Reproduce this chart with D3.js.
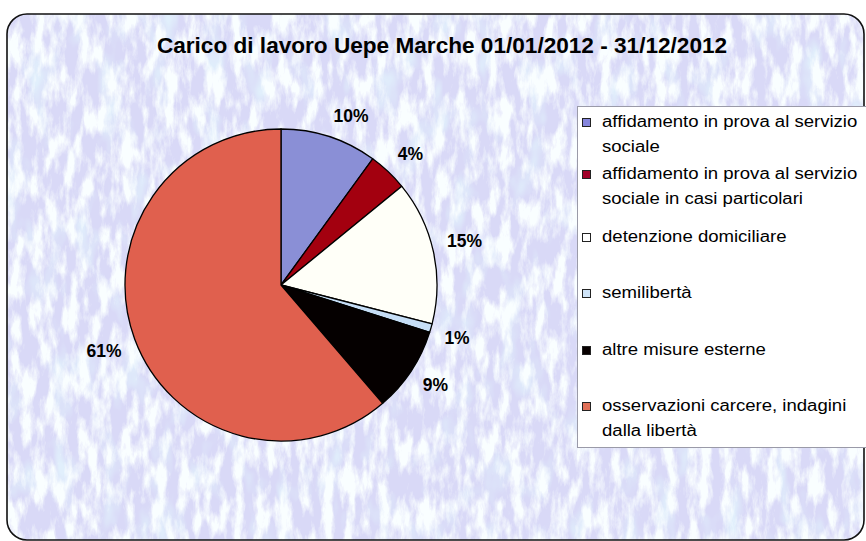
<!DOCTYPE html>
<html>
<head>
<meta charset="utf-8">
<script src="https://cdn.jsdelivr.net/npm/d3@7"></script>
<style>
  html, body { margin: 0; padding: 0; background: #ffffff; }
  svg { display: block; }
</style>
</head>
<body>
<svg id="chart" width="866" height="541"></svg>
<script>
// ---- data ----
const titleText = "Carico di lavoro Uepe Marche 01/01/2012 - 31/12/2012";
const categories = [
  "affidamento in prova al servizio sociale",
  "affidamento in prova al servizio sociale in casi particolari",
  "detenzione domiciliare",
  "semilibertà",
  "altre misure esterne",
  "osservazioni carcere, indagini dalla libertà"
];
const legendLines = [
  ["affidamento in prova al servizio", "sociale"],
  ["affidamento in prova al servizio", "sociale in casi particolari"],
  ["detenzione domiciliare"],
  ["semilibertà"],
  ["altre misure esterne"],
  ["osservazioni carcere, indagini", "dalla libertà"]
];
const values = [10.0, 4.1, 14.9, 0.9, 8.8, 61.3];
const sliceColors = ["#8a8fd6", "#a3000f", "#fffff8", "#c6def6", "#050000", "#e0604e"];
const legendColors = ["#8585dc", "#a00028", "#ffffff", "#cfe4f8", "#080000", "#e07058"];

// ---- layout ----
const W = 866, H = 541;
const svg = d3.select("#chart");
const defs = svg.append("defs");

const frame = {x: 7, y: 14, w: 857, h: 526, r: 20};

const clip = defs.append("clipPath").attr("id", "frameClip");
clip.append("rect").attr("x", frame.x).attr("y", frame.y).attr("width", frame.w).attr("height", frame.h)
  .attr("rx", frame.r).attr("ry", frame.r);

const filt = defs.append("filter").attr("id", "tex")
  .attr("filterUnits", "userSpaceOnUse")
  .attr("x", 0).attr("y", 0).attr("width", W).attr("height", H);
filt.append("feTurbulence").attr("type", "fractalNoise")
  .attr("baseFrequency", "0.09 0.03").attr("numOctaves", 5).attr("seed", 11).attr("result", "n");
filt.append("feColorMatrix").attr("in", "n").attr("type", "matrix")
  .attr("values", "0 0 0 0 0.95  0 0 0 0 0.99  0 0 0 0 1  3.6 0 0 0 -1.45");

const filt2 = defs.append("filter").attr("id", "tex2")
  .attr("filterUnits", "userSpaceOnUse")
  .attr("x", 0).attr("y", 0).attr("width", W).attr("height", H);
filt2.append("feTurbulence").attr("type", "fractalNoise")
  .attr("baseFrequency", "0.04 0.02").attr("numOctaves", 3).attr("seed", 3).attr("result", "n");
filt2.append("feColorMatrix").attr("in", "n").attr("type", "matrix")
  .attr("values", "0 0 0 0 0.75  0 0 0 0 0.86  0 0 0 0 0.97  0 0 3 0 -1.55");

const bgG = svg.append("g").attr("clip-path", "url(#frameClip)");
bgG.append("rect").attr("x", 0).attr("y", 0).attr("width", W).attr("height", H).attr("fill", "#d9d9f7");
bgG.append("rect").attr("x", 0).attr("y", 0).attr("width", W).attr("height", H).attr("filter", "url(#tex2)");
bgG.append("rect").attr("x", 0).attr("y", 0).attr("width", W).attr("height", H).attr("filter", "url(#tex)");

svg.append("rect").attr("x", frame.x).attr("y", frame.y).attr("width", frame.w).attr("height", frame.h)
  .attr("rx", frame.r).attr("ry", frame.r)
  .attr("fill", "none").attr("stroke", "#111").attr("stroke-width", 1.6);

// ---- title ----
svg.append("text")
  .attr("x", 442).attr("y", 53)
  .attr("text-anchor", "middle")
  .attr("font-family", "Liberation Sans, Arial, sans-serif")
  .attr("font-weight", "bold")
  .attr("font-size", 22.6)
  .attr("fill", "#000")
  .text(titleText);

// ---- pie ----
const cx = 281, cy = 285, R = 156;
const pie = d3.pie().sort(null).value(d => d).startAngle(0).endAngle(2 * Math.PI);
const arcs = pie(values);
const arc = d3.arc().innerRadius(0).outerRadius(R);

const pieG = svg.append("g").attr("transform", `translate(${cx},${cy})`);
pieG.selectAll("path.slice").data(arcs).enter().append("path")
  .attr("class", "slice")
  .attr("d", arc)
  .attr("fill", (d, i) => sliceColors[i])
  .attr("stroke", "#000")
  .attr("stroke-width", 1.3)
  .attr("stroke-linejoin", "round");

// labels: nearest corner of label box placed on the mid-angle ray
const labelR = R + 14;
const fmt = v => Math.round(v) + "%";
pieG.selectAll("text.lbl").data(arcs).enter().append("text")
  .attr("class", "lbl")
  .attr("font-family", "Liberation Sans, Arial, sans-serif")
  .attr("font-weight", "bold")
  .attr("font-size", 17.5)
  .attr("fill", "#000")
  .each(function(d) {
    const a = (d.startAngle + d.endAngle) / 2;
    const dx = Math.sin(a), dy = -Math.cos(a);
    const px = labelR * dx, py = labelR * dy;
    const t = d3.select(this);
    t.attr("text-anchor", dx >= 0 ? "start" : "end")
     .attr("x", px)
     .attr("y", dy < 0 ? py - 1 : py + 12.5)
     .text(fmt(d.data));
  });

// ---- legend ----
const lg = svg.append("g");
lg.append("rect").attr("x", 577.5).attr("y", 106.5).attr("width", 300).attr("height", 341)
  .attr("fill", "#ffffff").attr("stroke", "#9a9aa8").attr("stroke-width", 1);

const itemY = [127, 179, 242, 298, 355, 411];
const lineH = 25;
legendLines.forEach((lines, i) => {
  const y0 = itemY[i];
  lg.append("rect").attr("x", 582.5).attr("y", y0 - 8.5).attr("width", 8).attr("height", 8)
    .attr("fill", legendColors[i]).attr("stroke", "#222").attr("stroke-width", 1);
  lines.forEach((ln, j) => {
    lg.append("text")
      .attr("transform", `translate(602,${y0 + j * lineH}) scale(1.16,1)`)
      .attr("font-family", "Liberation Sans, Arial, sans-serif")
      .attr("font-size", 16)
      .attr("fill", "#000")
      .text(ln);
  });
});
</script>
</body>
</html>
